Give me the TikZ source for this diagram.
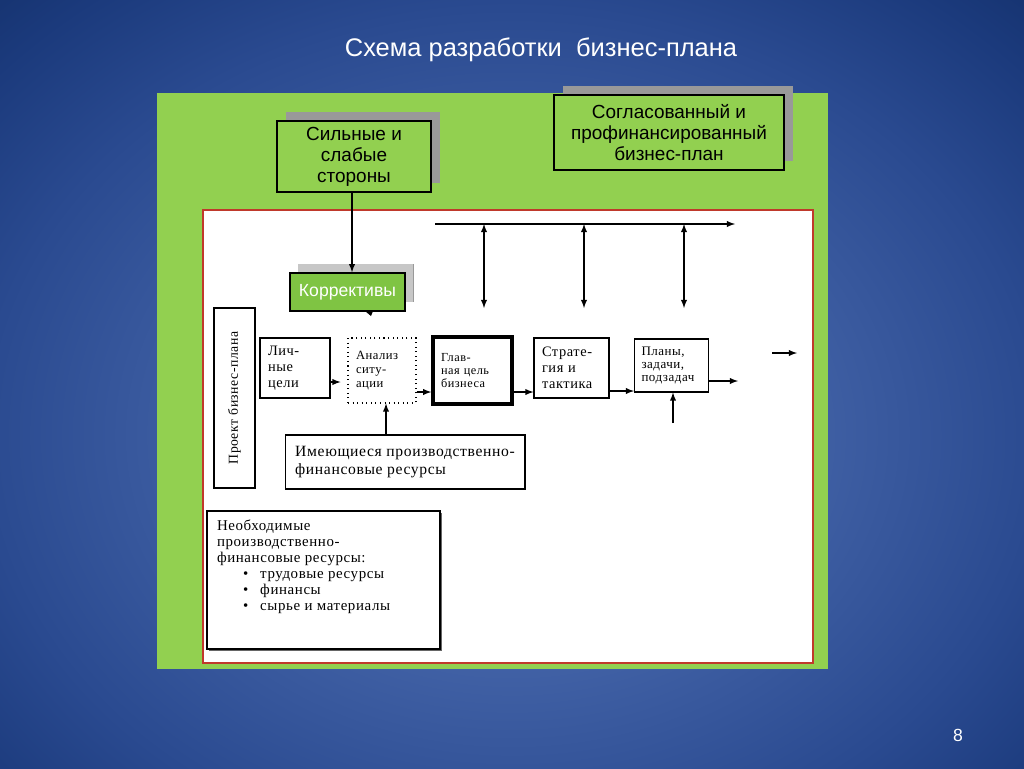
\documentclass[tikz,border=0pt]{standalone}
\usepackage{fontspec}
\setmainfont{Liberation Serif}
\newfontfamily\arialfont{Liberation Sans}
\newfontfamily\scanfont{Liberation Serif}[LetterSpace=4]
\usetikzlibrary{arrows,shadows}
\definecolor{slideblue}{HTML}{0A2455}
\definecolor{slidedeep}{HTML}{1B3A7C}
\definecolor{slidemid}{HTML}{2A4A90}
\definecolor{slidelight}{HTML}{4565A9}
\definecolor{panelgreen}{HTML}{92D050}
\definecolor{corrgreen}{HTML}{7FC443}
\definecolor{framered}{HTML}{C0392B}
\pgfdeclareradialshading{slidebg}{\pgfpoint{0bp}{0bp}}{color(0bp)=(slidelight);
    color(11bp)=(slidelight); color(24bp)=(slidemid); color(31bp)=(slidedeep);
    color(42bp)=(slideblue); color(50bp)=(slideblue)}
\tikzset{
  greenbox/.style={draw=black, fill=panelgreen, line width=0.9pt, align=center,
    inner sep=0pt, font=\arialfont\fontsize{10.8}{12}\selectfont,
    drop shadow={shadow xshift=0.18cm, shadow yshift=0.18cm, fill=black!40, opacity=1}},
  stepbox/.style={draw=black, fill=white, line width=0.6pt, align=left,
    inner xsep=0.16cm, inner ysep=0pt},
  link/.style={-latex, line width=0.6pt},
}

\begin{document}
\begin{tikzpicture}[x=0.02cm, y=-0.02cm]
    % slide background
    \useasboundingbox (0,0) rectangle (1024,768);
    \begin{scope}
        \clip (0,0) rectangle (1024,768);
        \shade[shading=slidebg] (-40,-10) rectangle (1064,880);
    \end{scope}
    \node (title) at (541,50) [text=white, font=\arialfont\fontsize{14.5}{17}\selectfont]
        {Схема разработки\ \ бизнес-плана};
    \node (page) at (958,735) [text=white, font=\arialfont\fontsize{10}{12}\selectfont] {8};

    \fill[panelgreen] (157,93) rectangle (828,669);
    \draw[framered, fill=white, line width=1pt] (203,210) rectangle (813,663);

    % green boxes
    \node (strong) at (354,156.5) [greenbox, minimum width=3.08cm, minimum height=1.42cm]
        {Сильные и\\слабые\\стороны};
    \node (agreed) at (669,132.5) [greenbox, minimum width=4.6cm, minimum height=1.5cm]
        {Согласованный и\\профинансированный\\бизнес-план};
    \node (corr) at (347.5,292) [greenbox, fill=corrgreen, text=white, minimum width=2.3cm,
        minimum height=0.76cm, font=\arialfont\fontsize{10}{12}\selectfont,
        drop shadow={shadow xshift=0.16cm, shadow yshift=0.18cm, fill=black!22, opacity=1}]
        {Коррективы};
    \fill (365,311) -- (373,311) -- (371,316) -- cycle;

    % chain of steps
    \node (project) at (234.5,398) [stepbox, rotate=90, align=center, minimum width=3.6cm,
        minimum height=0.82cm, font=\scanfont\fontsize{7.8}{9}\selectfont] {Проект бизнес-плана};
    \node (personal) at (295,368) [stepbox, text width=1.08cm, minimum height=1.2cm,
        font=\scanfont\fontsize{8.2}{9}\selectfont] {Лич-\\ные\\цели};
    \node (analysis) at (382,370.5) [stepbox, dotted, text width=1.04cm, minimum height=1.3cm,
        font=\scanfont\fontsize{7.2}{8}\selectfont] {Анализ\\ситу-\\ации\\[4pt]};
    \node (goal) at (472.5,370.5) [stepbox, line width=2pt, text width=1.26cm, minimum height=1.34cm,
        font=\scanfont\fontsize{7}{7.2}\selectfont] {Глав-\\ная цель\\бизнеса\\[12pt]};
    \node (strategy) at (571.5,368) [stepbox, text width=1.18cm, minimum height=1.2cm,
        font=\scanfont\fontsize{8.2}{9}\selectfont] {Страте-\\гия и\\тактика};
    \node (plans) at (671.5,365.5) [stepbox, text width=1.2cm, minimum height=1.06cm,
        inner xsep=0.14cm, font=\scanfont\fontsize{7.4}{7.5}\selectfont] {Планы,\\задачи,\\подзадач};
    \node (existing) at (405,462) [stepbox, minimum width=4.8cm, minimum height=1.08cm,
        inner xsep=0pt, font=\scanfont\fontsize{8.9}{10}\selectfont] {Имеющиеся производственно-\\финансовые ресурсы};
    \node (needed) at (323.5,580) [stepbox, minimum width=4.66cm, minimum height=2.76cm,
        inner xsep=0.2cm, font=\scanfont\fontsize{8.5}{9.1}\selectfont,
        drop shadow={shadow xshift=1pt, shadow yshift=-1pt, fill=black!60, opacity=1}]
        {\parbox[c][2.6cm][t]{4.26cm}{\vspace*{0.1cm}Необходимые\\производственно-\\финансовые ресурсы:\\
        \hspace*{0.52cm}\textbullet\hspace{0.24cm}трудовые ресурсы\\
        \hspace*{0.52cm}\textbullet\hspace{0.24cm}финансы\\
        \hspace*{0.52cm}\textbullet\hspace{0.24cm}сырье и материалы}};

    % free ends
    \coordinate (busW) at (435,224);
    \coordinate (busE) at (735,224);
    \coordinate (plansOut) at (738,381);
    \coordinate (plansIn) at (673,423);
    \coordinate (loneW) at (772,353);
    \coordinate (loneE) at (797,353);

    % connectors
    \draw[link] (strong.south -| 352,0) -- (corr.north -| 352,0);
    \draw[link] (busW) -- (busE);
    \foreach \x/\n in {484/1,584/2,684/3}{
        \coordinate (up\n) at (\x,224);
        \coordinate (down\n) at (\x,308);
        \draw[latex-latex, line width=0.6pt] (up\n) -- (down\n);
    }
    \draw[link] (personal.east |- 0,382) -- ++(10,0);
    \draw[link] (analysis.east |- 0,392) -- (goal.west |- 0,392);
    \draw[link] (goal.east |- 0,392) -- (strategy.west |- 0,392);
    \draw[link] (strategy.east |- 0,391) -- (plans.west |- 0,391);
    \draw[link] (plans.east |- plansOut) -- (plansOut);
    \draw[link] (plansIn) -- (plans.south -| plansIn);
    \draw[link] (existing.north -| 386,0) -- (analysis.south -| 386,0);
    \draw[link] (loneW) -- (loneE);
\end{tikzpicture}
\end{document}
